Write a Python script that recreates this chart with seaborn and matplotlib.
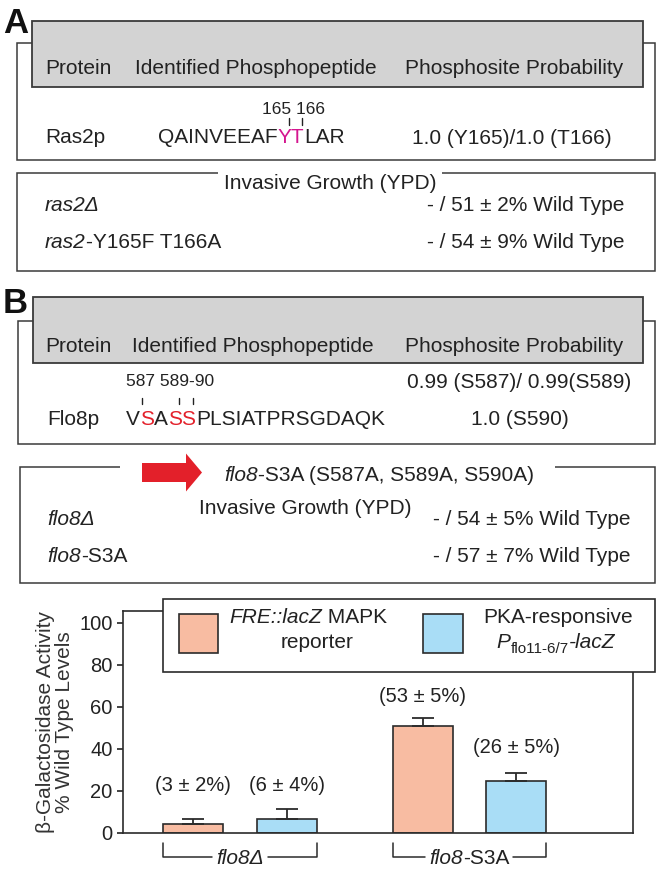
import matplotlib
matplotlib.use('Agg')
import matplotlib.pyplot as plt
import matplotlib.patches as mpatches
import seaborn as sns
import pandas as pd

# bar chart data
groups = ['flo8Δ', 'flo8-S3A']
reporters = ['FRE::lacZ MAPK reporter', 'PKA-responsive Pflo11-6/7-lacZ']
mapk_values = [4.3, 50.9]
mapk_errors = [2.4, 3.8]
pka_values = [6.7, 24.7]
pka_errors = [4.7, 3.8]
mapk_labels = ['(3 ± 2%)', '(53 ± 5%)']
pka_labels = ['(6 ± 4%)', '(26 ± 5%)']
y_ticks = [0, 20, 40, 60, 80, 100]

# table texts
header = ['Protein', 'Identified Phosphopeptide', 'Phosphosite Probability']
ras2_sites = '165 166'
ras2_peptide = [('QAINVEEAF', 'k'), ('YT', 'm'), ('LAR', 'k')]
ras2_prob = '1.0 (Y165)/1.0 (T166)'
ras2_growth = ['- / 51 ± 2% Wild Type', '- / 54 ± 9% Wild Type']
flo8_sites = '587 589-90'
flo8_peptide = [('V', 'k'), ('S', 'r'), ('A', 'k'), ('SS', 'r'), ('PLSIATPRSGDAQK', 'k')]
flo8_prob = ['0.99 (S587)/ 0.99(S589)', '1.0 (S590)']
flo8_growth = ['- / 54 ± 5% Wild Type', '- / 57 ± 7% Wild Type']

ORANGE = '#f8bca2'
BLUE = '#a9ddf6'
MAGENTA = '#d4168f'
RED = '#e3202a'
EDGE = '#2b2b2b'
FS = 15

sns.set_style('white')
plt.rcParams['font.family'] = ['Liberation Sans', 'DejaVu Sans']

fig = plt.figure(figsize=(6.6, 8.74), dpi=100)
ax = fig.add_axes([123 / 660, 1 - 833 / 874, 510 / 660, 222 / 874])

df = pd.DataFrame({
    'group': groups * 2,
    'reporter': [reporters[0]] * 2 + [reporters[1]] * 2,
    'value': mapk_values + pka_values,
    'err': mapk_errors + pka_errors,
    'label': mapk_labels + pka_labels,
})

sns.barplot(data=df, x='group', y='value', hue='reporter', order=groups,
            hue_order=reporters, palette=[ORANGE, BLUE], saturation=1,
            width=0.815, gap=0.36, edgecolor=EDGE, linewidth=1.2,
            errorbar=None, legend=False, ax=ax)

ax.set_xlim(-0.509, 1.713)
ax.set_ylim(0, 105.6)
ax.set_yticks(y_ticks)
ax.set_xticks([])
ax.set_xlabel('')
ax.tick_params(axis='y', direction='out', length=4.5, width=1.2, pad=3,
               labelsize=14.5, left=True, colors='#222222')
for s in ax.spines.values():
    s.set_linewidth(1.2)
    s.set_color(EDGE)
ax.set_ylabel('β-Galactosidase Activity\n% Wild Type Levels', fontsize=FS,
              linespacing=1.0, va='center', color='#333333')
ax.yaxis.set_label_coords(-0.134, 0.498)

# label heights above the bars (data units, layout only)
label_y = {(0, 0): 22.4, (0, 1): 22.4, (1, 0): 64.7, (1, 1): 40.9}

bar_containers = list(ax.containers)
bar_edges = {g: [] for g in range(len(groups))}
for h, cont in enumerate(bar_containers):
    sub = df[df['reporter'] == reporters[h]].set_index('group').loc[groups]
    for g, bar in enumerate(cont):
        xc = bar.get_x() + bar.get_width() / 2
        top = bar.get_height()
        ax.errorbar(xc, top, yerr=[[0], [sub['err'].iloc[g]]], color=EDGE,
                    elinewidth=1.3, capsize=8, capthick=1.3, zorder=1)
        ax.text(xc, label_y[(g, h)], sub['label'].iloc[g], ha='center', va='center',
                fontsize=14.5, color='#222222')
        bar_edges[g] += [bar.get_x(), bar.get_x() + bar.get_width()]

renderer = fig.canvas.get_renderer()


def rich(axis, x, y, parts, ha='left', size=FS, **common):
    inv = axis.transData.inverted()
    drawn = []
    cur = x
    for part in parts:
        opts = dict(part[1]) if len(part) > 1 else {}
        dy = opts.pop('dy', 0)
        fs = opts.pop('size', size)
        t = axis.text(cur, y + dy, part[0], fontsize=fs, ha='left', va='baseline',
                      color=opts.pop('color', '#222222'), **common, **opts)
        bb = t.get_window_extent(renderer)
        cur = inv.transform((bb.x1, bb.y0))[0]
        drawn.append(t)
    if ha == 'center':
        shift = (cur - x) / 2
        for t in drawn:
            t.set_x(t.get_position()[0] - shift)
    return drawn


# group brackets under the bars
px2x = 1 / 229.5
bracket_names = [[('flo8Δ', {'style': 'italic'})],
                 [('flo8', {'style': 'italic'}), ('-S3A', {})]]
for g in range(len(groups)):
    left, right = min(bar_edges[g]), max(bar_edges[g])
    mid = (left + right) / 2
    texts = rich(ax, mid, -14.9, bracket_names[g], ha='center', clip_on=False)
    inv = ax.transData.inverted()
    tl = inv.transform((texts[0].get_window_extent(renderer).x0, 0))[0]
    tr = inv.transform((texts[-1].get_window_extent(renderer).x1, 0))[0]
    ax.plot([left, left, tl - 4 * px2x], [-4.8, -11.4, -11.4], color=EDGE, lw=1.1, clip_on=False)
    ax.plot([tr + 4 * px2x, right, right], [-11.4, -11.4, -4.8], color=EDGE, lw=1.1, clip_on=False)

# overlay in pixel coordinates for the tables and the legend
ov = fig.add_axes([0, 0, 1, 1])
ov.set_xlim(0, 660)
ov.set_ylim(874, 0)
ov.axis('off')
ov.set_zorder(3)


def box(x0, y0, x1, y1, fc='white', lw=1.1, ec='#3a3a3a'):
    ov.add_patch(mpatches.Rectangle((x0, y0), x1 - x0, y1 - y0, fc=fc, ec=ec, lw=lw))


colors = {'k': '#222222', 'm': MAGENTA, 'r': RED}

# ---- panel A
ov.text(3, 33, 'A', fontsize=25, fontweight='bold', va='baseline', color='#111111')
box(17, 43, 655, 160)
box(32, 21, 643, 87, fc='#d3d3d3', lw=1.3)
for hx, h in zip([45, 135, 405], header):
    ov.text(hx, 74, h, fontsize=FS, va='baseline', color='#222222')
ov.text(262, 114, ras2_sites, fontsize=12.5, va='baseline', color='#222222')
for tx in [289, 302]:
    ov.plot([tx, tx], [118, 125], color='#222222', lw=1)
ov.text(45, 143, 'Ras2p', fontsize=FS, va='baseline', color='#222222')
rich(ov, 158, 143, [(s, {'color': colors[c]}) for s, c in ras2_peptide])
ov.text(412, 144, ras2_prob, fontsize=FS, va='baseline', color='#222222')

box(17, 173, 655, 271)
ov.text(330, 189, 'Invasive Growth (YPD)', fontsize=FS, va='baseline', ha='center',
        color='#222222', bbox=dict(fc='white', ec='none', pad=4))
rich(ov, 45, 211, [('ras2Δ', {'style': 'italic'})])
rich(ov, 45, 248, [('ras2', {'style': 'italic'}), ('-Y165F T166A', {})])
ov.text(427, 211, ras2_growth[0], fontsize=FS, va='baseline', color='#222222')
ov.text(427, 248, ras2_growth[1], fontsize=FS, va='baseline', color='#222222')

# ---- panel B
ov.text(3, 313, 'B', fontsize=25, fontweight='bold', va='baseline', color='#111111')
box(18, 321, 655, 444)
box(33, 297, 643, 363, fc='#d3d3d3', lw=1.3)
for hx, h in zip([45, 132, 405], header):
    ov.text(hx, 352, h, fontsize=FS, va='baseline', color='#222222')
ov.text(126, 386, flo8_sites, fontsize=12.5, va='baseline', color='#222222')
for tx in [142, 179, 193]:
    ov.plot([tx, tx], [398, 404], color='#222222', lw=1)
ov.text(47, 425, 'Flo8p', fontsize=FS, va='baseline', color='#222222')
rich(ov, 126, 425, [(s, {'color': colors[c]}) for s, c in flo8_peptide])
ov.text(407, 388, flo8_prob[0], fontsize=FS, va='baseline', color='#222222')
ov.text(520, 425, flo8_prob[1], fontsize=FS, va='baseline', ha='center', color='#222222')

box(20, 467, 655, 583)
ov.add_patch(mpatches.Rectangle((120, 455), 435, 20, fc='white', ec='none'))
ov.add_patch(mpatches.FancyArrow(142, 472.5, 60, 0, width=19, head_width=38,
                                 head_length=16, length_includes_head=True,
                                 fc=RED, ec='none'))
rich(ov, 224, 481, [('flo8', {'style': 'italic'}), ('-S3A (S587A, S589A, S590A)', {})])
ov.text(199, 514, 'Invasive Growth (YPD)', fontsize=FS, va='baseline', color='#222222')
rich(ov, 47, 525, [('flo8Δ', {'style': 'italic'})])
rich(ov, 47, 562, [('flo8', {'style': 'italic'}), ('-S3A', {})])
ov.text(433, 525, flo8_growth[0], fontsize=FS, va='baseline', color='#222222')
ov.text(433, 562, flo8_growth[1], fontsize=FS, va='baseline', color='#222222')

# ---- legend box over the chart
box(163, 599, 655, 672, lw=1.2, ec=EDGE)
box(179, 614, 218, 653, fc=ORANGE, lw=1.2, ec=EDGE)
box(423, 614, 463, 653, fc=BLUE, lw=1.2, ec=EDGE)
rich(ov, 308, 623, [('FRE::lacZ', {'style': 'italic'}), (' MAPK', {})], ha='center')
ov.text(317, 648, 'reporter', fontsize=FS, va='baseline', ha='center', color='#222222')
ov.text(558, 623, 'PKA-responsive', fontsize=FS, va='baseline', ha='center', color='#222222')
rich(ov, 556, 648, [('P', {'style': 'italic'}), ('flo11-6/7', {'size': 11, 'dy': 5}),
                    ('-lacZ', {'style': 'italic'})], ha='center')

fig.savefig('out.png', dpi=100)
